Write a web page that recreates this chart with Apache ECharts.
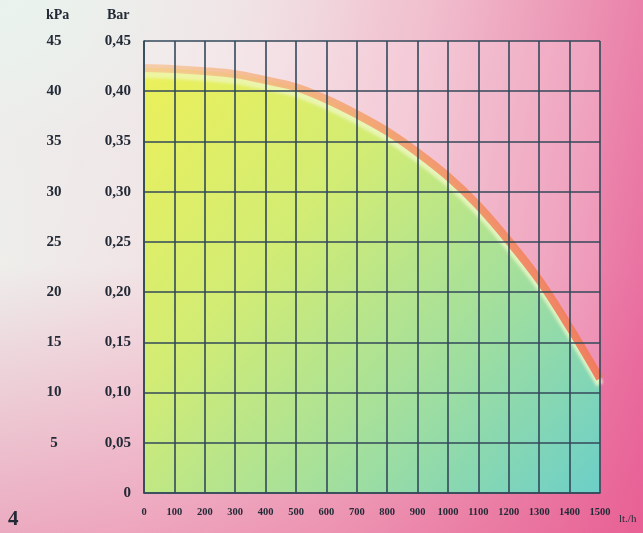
<!DOCTYPE html>
<html>
<head>
<meta charset="utf-8">
<script src="https://cdn.jsdelivr.net/npm/echarts@6/dist/echarts.min.js"></script>
<style>
html,body{margin:0;padding:0;width:643px;height:533px;overflow:hidden;}
body{
  background:
    radial-gradient(ellipse 380px 260px at 0% 0%, rgba(233,243,237,1) 0%, rgba(238,234,234,0.5) 55%, rgba(238,220,226,0) 100%),
    linear-gradient(to bottom, rgba(232,92,142,0) 50%, rgba(232,92,142,0.45) 100%),
    linear-gradient(100deg, #ecf1ec 0%, #f2e2e5 30%, #f1c0cf 58%, #ec92b2 80%, #e8639a 100%);
}
#c{width:643px;height:533px;}
</style>
</head>
<body>
<div id="c"></div>
<script>
// Flow (lt./h) and pressure (Bar)
const flow = [0, 100, 200, 300, 400, 500, 600, 700, 800, 900, 1000, 1100, 1200, 1300, 1400, 1500];
const pressureBar = [0.423, 0.422, 0.420, 0.417, 0.411, 0.404, 0.392, 0.377, 0.360, 0.339, 0.315, 0.286, 0.251, 0.212, 0.165, 0.114];
// Tick labels
const xTickLabels = ['0','100','200','300','400','500','600','700','800','900','1000','1100','1200','1300','1400','1500'];
const barTickLabels = ['0','0,05','0,10','0,15','0,20','0,25','0,30','0,35','0,40','0,45'];
const kpaTickLabels = ['','5','10','15','20','25','30','35','40','45'];

const chart = echarts.init(document.getElementById('c'), null, {renderer: 'canvas'});
const gridLine = {color: '#33495a', width: 1.6};
const txt = '#232a36';
const serif = 'Liberation Serif';

const data = flow.map((f, i) => [f, pressureBar[i]]);

chart.setOption({
  animation: false,
  grid: {left: 144, right: 43, top: 41, bottom: 40, show: true, backgroundColor: 'rgba(255,240,245,0.22)', borderWidth: 0},
  xAxis: {
    type: 'value', min: 0, max: 1500, interval: 100, z: 5,
    axisLine: {show: true, lineStyle: gridLine},
    axisTick: {show: false},
    splitLine: {show: true, lineStyle: gridLine},
    axisLabel: {
      margin: 14, fontFamily: serif, fontSize: 10.5, color: txt, fontWeight: 'bold',
      formatter: (v) => xTickLabels[Math.round(v / 100)]
    }
  },
  yAxis: [
    {
      type: 'value', min: 0, max: 0.45, interval: 0.05, z: 5,
      axisLine: {show: true, lineStyle: gridLine},
      axisTick: {show: false},
      splitLine: {show: true, lineStyle: gridLine},
      axisLabel: {
        margin: 13, fontFamily: serif, fontSize: 15, color: txt, fontWeight: 'bold',
        padding: [0, 0, 10, 0],
        formatter: (v) => barTickLabels[Math.round(v / 0.05)]
      }
    },
    {
      type: 'value', min: 0, max: 45, interval: 5, position: 'left',
      axisLine: {show: false}, axisTick: {show: false}, splitLine: {show: false},
      axisLabel: {
        margin: 90, align: 'center', fontFamily: serif, fontSize: 15, color: txt, fontWeight: 'bold',
        padding: [0, 0, 10, 0],
        formatter: (v) => kpaTickLabels[Math.round(v / 5)]
      }
    }
  ],
  graphic: [
    {type: 'text', left: 46, top: 8, style: {text: 'kPa', fontFamily: serif, fontSize: 14, fontWeight: 'bold', fill: txt}},
    {type: 'text', left: 107, top: 8, style: {text: 'Bar', fontFamily: serif, fontSize: 14, fontWeight: 'bold', fill: txt}},
    {type: 'text', left: 619, top: 514, style: {text: 'lt./h', fontFamily: serif, fontSize: 11, fill: txt}},
    {type: 'text', left: 8, top: 509, style: {text: '4', fontFamily: serif, fontSize: 21, fontWeight: 'bold', fill: txt}}
  ],
  series: [{
    type: 'line',
    data: data,
    smooth: 0.35,
    symbol: 'none',
    z: 1,
    lineStyle: {
      width: 8,
      color: new echarts.graphic.LinearGradient(0, 0, 1, 0, [
        {offset: 0, color: 'rgba(246,196,150,0.75)'},
        {offset: 0.5, color: 'rgba(244,160,110,0.9)'},
        {offset: 1, color: 'rgba(240,120,90,0.95)'}
      ]),
      shadowColor: 'rgba(240,248,200,0.85)',
      shadowBlur: 3,
      shadowOffsetY: 6
    },
    areaStyle: {
      opacity: 1,
      color: new echarts.graphic.LinearGradient(0, 0, 1, 1, [
        {offset: 0, color: '#ecf05a'},
        {offset: 0.35, color: '#d2ec74'},
        {offset: 0.65, color: '#a6e09a'},
        {offset: 1, color: '#6ccfc8'}
      ])
    }
  }]
});
</script>
</body>
</html>
